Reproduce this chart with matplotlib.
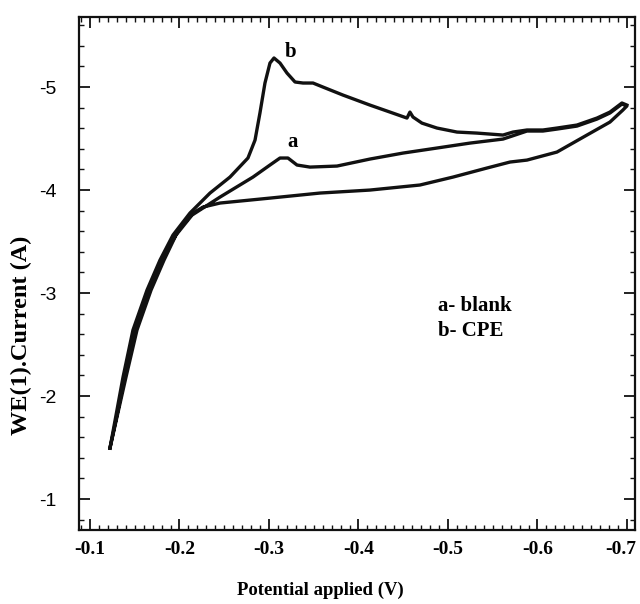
import matplotlib
matplotlib.use("Agg")
import matplotlib.pyplot as plt
from matplotlib.ticker import MultipleLocator, FormatStrFormatter
from matplotlib.transforms import ScaledTranslation

plt.rcParams["axes.unicode_minus"] = False

# ---------------------------------------------------------------------------
# Data (potential in V, current in A)
# ---------------------------------------------------------------------------

# b - CPE, forward scan
b_potential = [-0.1223, -0.1369, -0.1480, -0.1637, -0.1782, -0.1927, -0.2117,
               -0.2341, -0.2564, -0.2765, -0.2844, -0.2899, -0.2955, -0.3011,
               -0.3056, -0.3123, -0.3201, -0.3291, -0.3380, -0.3492, -0.3603,
               -0.3827, -0.4128, -0.4352, -0.4542, -0.4575, -0.4609, -0.4709,
               -0.4877, -0.5101, -0.5324, -0.5615, -0.5726, -0.5883, -0.6061,
               -0.6218, -0.6441, -0.6665, -0.6810, -0.6944, -0.6999]
b_current = [-1.495, -2.184, -2.641, -3.029, -3.320, -3.563, -3.777,
             -3.971, -4.126, -4.311, -4.485, -4.748, -5.039, -5.233,
             -5.282, -5.233, -5.136, -5.049, -5.039, -5.039, -5.000,
             -4.922, -4.825, -4.757, -4.699, -4.757, -4.709, -4.650,
             -4.602, -4.563, -4.553, -4.534, -4.563, -4.583, -4.583,
             -4.602, -4.631, -4.699, -4.757, -4.845, -4.825]

# a - blank, forward scan then reverse scan
a_potential = [-0.1223, -0.1402, -0.1525, -0.1682, -0.1827, -0.1961, -0.2140,
               -0.2453, -0.2821, -0.3011, -0.3123, -0.3212, -0.3313, -0.3458,
               -0.3760, -0.4128, -0.4497, -0.4877, -0.5246, -0.5615, -0.5715,
               -0.5883, -0.6061, -0.6218, -0.6441, -0.6665, -0.6810, -0.6944,
               -0.6999, -0.6955, -0.6810, -0.6553, -0.6218, -0.5883, -0.5693,
               -0.5436, -0.5056, -0.4687, -0.4128, -0.3570, -0.3011, -0.2453,
               -0.2263, -0.2151, -0.2006, -0.1872, -0.1726, -0.1592, -0.1447,
               -0.1313, -0.1223]
a_current = [-1.495, -2.184, -2.641, -3.029, -3.320, -3.563, -3.757,
             -3.932, -4.126, -4.243, -4.311, -4.311, -4.243, -4.223,
             -4.233, -4.301, -4.359, -4.408, -4.456, -4.495, -4.524,
             -4.573, -4.573, -4.592, -4.621, -4.689, -4.748, -4.835,
             -4.816, -4.777, -4.660, -4.534, -4.369, -4.291, -4.272,
             -4.214, -4.126, -4.049, -4.000, -3.971, -3.922, -3.874,
             -3.835, -3.777, -3.631, -3.437, -3.175, -2.883, -2.447,
             -1.864, -1.495]

x_ticks = [-0.1, -0.2, -0.3, -0.4, -0.5, -0.6, -0.7]
y_ticks = [-1, -2, -3, -4, -5]

SERIF = "Liberation Serif"
LINE = "#111111"

fig = plt.figure(figsize=(6.40, 6.04), dpi=100)
ax = fig.add_axes([79 / 640, 74 / 604, 556 / 640, 513 / 604])

ax.plot(a_potential, a_current, color=LINE, lw=2.4, solid_joinstyle="round")
ax.plot(b_potential, b_current, color=LINE, lw=2.4, solid_joinstyle="round")

# both axes run towards more negative values
ax.set_xlim(-0.0877, -0.709)
ax.set_ylim(-0.70, -5.68)

ax.set_xticks(x_ticks)
ax.set_yticks(y_ticks)
ax.xaxis.set_minor_locator(MultipleLocator(0.01))
ax.yaxis.set_minor_locator(MultipleLocator(0.2))
ax.xaxis.set_major_formatter(FormatStrFormatter("%g"))
ax.yaxis.set_major_formatter(FormatStrFormatter("%g"))

ax.tick_params(which="both", direction="in", top=True, right=True, color="#111")
ax.tick_params(which="major", length=8, width=1.3)
ax.tick_params(which="minor", length=3.5, width=1.0)
ax.tick_params(axis="x", pad=8)
ax.tick_params(axis="y", pad=16)
for lbl in ax.get_xticklabels():
    lbl.set_fontfamily(SERIF)
    lbl.set_fontweight("bold")
    lbl.set_fontsize(14)
# last label sits against the figure edge, nudge it in a little
last = ax.get_xticklabels()[-1]
last.set_transform(last.get_transform() + ScaledTranslation(-0.06, 0, fig.dpi_scale_trans))
for lbl in ax.get_yticklabels():
    lbl.set_fontfamily(["Liberation Sans Narrow", "Liberation Sans"])
    lbl.set_fontsize(14)

for sp in ax.spines.values():
    sp.set_linewidth(1.6)
    sp.set_color("#111")

ax.set_xlabel("Potential applied (V)", family=SERIF, fontweight="bold", fontsize=13.5)
ax.set_ylabel("WE(1).Current (A)", family=SERIF, fontweight="bold", fontsize=17.5)
ax.xaxis.set_label_coords((320 - 79) / 556, (530 - 582) / 513)
ax.yaxis.set_label_coords((32 - 79) / 556, (530 - 335) / 513)

# curve labels and legend text
ax.text(-0.3246, -5.34, "b", family=SERIF,
        fontweight="bold", fontsize=15, ha="center", va="center")
ax.text(-0.3268, -4.466, "a", family=SERIF,
        fontweight="bold", fontsize=15, ha="center", va="center")
ax.text(0.645, 0.413, "a- blank\nb- CPE", transform=ax.transAxes, family=SERIF,
        fontweight="bold", fontsize=15, ha="left", va="center", linespacing=1.35)

fig.savefig("out.png", dpi=100)
